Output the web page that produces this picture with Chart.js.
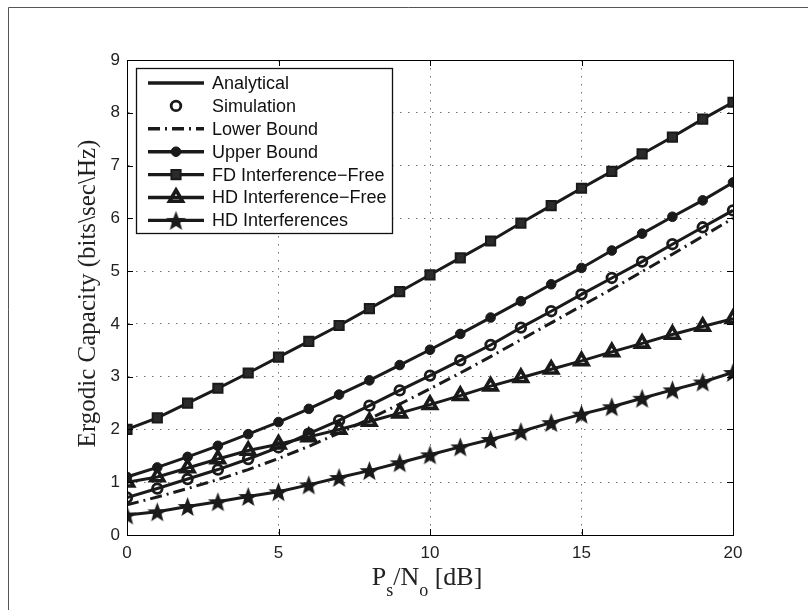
<!DOCTYPE html>
<html>
<head>
<meta charset="utf-8">
<script src="https://cdn.jsdelivr.net/npm/chart.js@4/dist/chart.umd.min.js"></script>
<style>
  html, body { margin: 0; padding: 0; background: #fff; }
  #wrap { width: 808px; height: 610px; }
</style>
</head>
<body>
<div id="wrap"><canvas id="chart" width="808" height="610"></canvas></div>
<script>
// values
const snr = [0, 1, 2, 3, 4, 5, 6, 7, 8, 9, 10, 11, 12, 13, 14, 15, 16, 17, 18, 19, 20];
const analytical = [0.71, 0.88, 1.06, 1.24, 1.44, 1.66, 1.92, 2.17, 2.45, 2.74, 3.02, 3.31, 3.60, 3.93, 4.24, 4.56, 4.87, 5.18, 5.51, 5.83, 6.15];
const simulation = [0.71, 0.88, 1.06, 1.24, 1.44, 1.66, 1.92, 2.17, 2.45, 2.74, 3.02, 3.31, 3.60, 3.93, 4.24, 4.56, 4.87, 5.18, 5.51, 5.83, 6.15];
const lowerBound = [0.57, 0.72, 0.88, 1.05, 1.24, 1.45, 1.68, 1.93, 2.20, 2.48, 2.77, 3.07, 3.38, 3.70, 4.02, 4.34, 4.66, 4.99, 5.32, 5.66, 6.00];
const upperBound = [1.10, 1.28, 1.48, 1.69, 1.91, 2.14, 2.39, 2.66, 2.93, 3.22, 3.51, 3.81, 4.12, 4.43, 4.75, 5.06, 5.39, 5.71, 6.03, 6.34, 6.68];
const fdFree = [2.00, 2.22, 2.50, 2.78, 3.07, 3.37, 3.67, 3.97, 4.29, 4.61, 4.93, 5.25, 5.57, 5.91, 6.24, 6.57, 6.89, 7.22, 7.54, 7.88, 8.20];
const hdFree = [1.00, 1.10, 1.27, 1.44, 1.60, 1.72, 1.86, 2.00, 2.15, 2.31, 2.47, 2.64, 2.82, 2.98, 3.14, 3.30, 3.47, 3.63, 3.80, 3.95, 4.10];
const hdInterf = [0.38, 0.44, 0.54, 0.63, 0.73, 0.82, 0.95, 1.09, 1.22, 1.37, 1.52, 1.67, 1.81, 1.96, 2.13, 2.29, 2.43, 2.59, 2.75, 2.90, 3.08];
const xTicks = [0, 5, 10, 15, 20];
const yTicks = [0, 1, 2, 3, 4, 5, 6, 7, 8, 9];
const legendNames = ['Analytical', 'Simulation', 'Lower Bound', 'Upper Bound',
  'FD Interference\u2212Free', 'HD Interference\u2212Free', 'HD Interferences'];

const INK = '#1a1a1a';
const toXY = arr => snr.map((x, i) => ({ x, y: arr[i] }));

// filled pentagram used as a point style
function makeStar(r) {
  const s = Math.ceil(r * 2 + 2);
  const c = document.createElement('canvas');
  c.width = c.height = s;
  const g = c.getContext('2d');
  g.fillStyle = INK;
  g.beginPath();
  for (let k = 0; k < 10; k++) {
    const rr = k % 2 ? r * 0.42 : r;
    const a = -Math.PI / 2 + k * Math.PI / 5;
    g.lineTo(s / 2 + rr * Math.cos(a), s / 2 + 1 + rr * Math.sin(a));
  }
  g.closePath();
  g.fill();
  return c;
}
const star = makeStar(10.5);

const base = { borderColor: INK, borderWidth: 3, tension: 0, pointBorderColor: INK };
const datasets = [
  { ...base, label: legendNames[0], data: toXY(analytical), pointRadius: 0 },
  { ...base, label: legendNames[1], data: toXY(simulation), showLine: false,
    pointStyle: 'circle', pointRadius: 4.8, pointBorderWidth: 2.8, pointBackgroundColor: 'rgba(0,0,0,0)' },
  { ...base, label: legendNames[2], data: toXY(lowerBound), pointRadius: 0, borderDash: [12, 5, 2, 5] },
  { ...base, label: legendNames[3], data: toXY(upperBound),
    pointStyle: 'circle', pointRadius: 4.8, pointBorderWidth: 1, pointBackgroundColor: INK },
  { ...base, label: legendNames[4], data: toXY(fdFree),
    pointStyle: 'rect', pointRadius: 6.5, pointBorderWidth: 2, pointBackgroundColor: '#2b2b2b' },
  { ...base, label: legendNames[5], data: toXY(hdFree),
    pointStyle: 'triangle', pointRadius: 7.5, pointBorderWidth: 3.6, pointBackgroundColor: 'rgba(0,0,0,0)' },
  { ...base, label: legendNames[6], data: toXY(hdInterf), pointStyle: star, pointRadius: 10 }
];

const decor = {
  id: 'decor',
  beforeDraw(chart) {
    const ctx = chart.ctx;
    ctx.save();
    ctx.fillStyle = '#fff';
    ctx.fillRect(0, 0, chart.width, chart.height);
    // figure frame (only top/left edges fall inside the picture)
    ctx.strokeStyle = '#555';
    ctx.lineWidth = 1;
    ctx.beginPath();
    ctx.moveTo(8.5, 900); ctx.lineTo(8.5, 7.5); ctx.lineTo(900, 7.5);
    ctx.stroke();
    ctx.restore();
  },
  afterDraw(chart) {
    const ctx = chart.ctx;
    const { left, right, top, bottom } = chart.chartArea;
    const xs = chart.scales.x, ys = chart.scales.y;
    ctx.save();
    // axes box and inward ticks
    ctx.strokeStyle = '#000';
    ctx.lineWidth = 1;
    ctx.strokeRect(left + 0.5, top + 0.5, right - left, bottom - top);
    ctx.beginPath();
    xTicks.forEach(v => {
      const p = Math.round(xs.getPixelForValue(v)) + 0.5;
      ctx.moveTo(p, bottom); ctx.lineTo(p, bottom - 6);
      ctx.moveTo(p, top); ctx.lineTo(p, top + 6);
    });
    yTicks.forEach(v => {
      const p = Math.round(ys.getPixelForValue(v)) + 0.5;
      ctx.moveTo(left, p); ctx.lineTo(left + 6, p);
      ctx.moveTo(right, p); ctx.lineTo(right - 6, p);
    });
    ctx.stroke();

    // y axis title
    ctx.fillStyle = '#222';
    ctx.font = '25px "Liberation Serif", "Times New Roman", serif';
    ctx.textAlign = 'center';
    ctx.textBaseline = 'middle';
    ctx.save();
    ctx.translate(88, (top + bottom) / 2 - 4);
    ctx.rotate(-Math.PI / 2);
    ctx.fillText('Ergodic Capacity (bits\\sec\\Hz)', 0, 0);
    ctx.restore();

    // x axis title with subscripts
    const big = '26px "Liberation Serif", "Times New Roman", serif';
    const small = '18px "Liberation Serif", "Times New Roman", serif';
    const parts = [['P', big, 0], ['s', small, 11], ['/', big, 0], ['N', big, 0], ['o', small, 11], [' [dB]', big, 0]];
    ctx.textAlign = 'left';
    ctx.textBaseline = 'alphabetic';
    let total = 0;
    parts.forEach(([t, f]) => { ctx.font = f; total += ctx.measureText(t).width; });
    let cx = (left + right) / 2 - 3 - total / 2;
    parts.forEach(([t, f, dy]) => {
      ctx.font = f;
      ctx.fillText(t, cx, 585 + dy);
      cx += ctx.measureText(t).width;
    });

    // legend
    const lx = 136.5, ly = 68.5, lw = 256, lh = 165;
    ctx.fillStyle = '#fff';
    ctx.fillRect(lx, ly, lw, lh);
    ctx.strokeStyle = '#111';
    ctx.lineWidth = 1.3;
    ctx.strokeRect(lx, ly, lw, lh);
    const x0 = 148, x1 = 204, mx = 176;
    ctx.font = '18px "Liberation Sans", Arial, sans-serif';
    ctx.textBaseline = 'middle';
    datasets.forEach((ds, i) => {
      const y = 83 + i * 22.9;
      ctx.strokeStyle = INK;
      ctx.fillStyle = INK;
      if (ds.showLine !== false) {
        ctx.lineWidth = 3.4;
        ctx.setLineDash(ds.borderDash || []);
        ctx.beginPath(); ctx.moveTo(x0, y); ctx.lineTo(x1, y); ctx.stroke();
        ctx.setLineDash([]);
      }
      const st = ds.pointStyle;
      if (ds.pointRadius) {
        const r = ds.pointRadius;
        ctx.lineWidth = ds.pointBorderWidth || 1;
        ctx.beginPath();
        if (st === 'circle') {
          ctx.arc(mx, y, r, 0, Math.PI * 2);
          if (ds.pointBackgroundColor === INK) ctx.fill();
          ctx.stroke();
        } else if (st === 'rect') {
          const s = r * Math.SQRT1_2;
          ctx.fillStyle = ds.pointBackgroundColor;
          ctx.rect(mx - s, y - s, 2 * s, 2 * s);
          ctx.fill(); ctx.stroke();
        } else if (st === 'triangle') {
          for (let k = 0; k < 3; k++) {
            const a = -Math.PI / 2 + k * 2 * Math.PI / 3;
            ctx.lineTo(mx + r * Math.cos(a), y + r * Math.sin(a));
          }
          ctx.closePath(); ctx.stroke();
        } else if (st === star) {
          ctx.drawImage(star, mx - star.width / 2, y - star.height / 2);
        }
      }
      ctx.fillStyle = '#111';
      ctx.fillText(ds.label, 212, y + 1);
    });
    ctx.restore();
  }
};

const gridStyle = {
  color: 'rgba(0,0,0,0.55)',
  lineWidth: 1,
  drawTicks: false
};

new Chart(document.getElementById('chart'), {
  type: 'line',
  data: { datasets },
  options: {
    responsive: false,
    animation: false,
    events: [],
    layout: { padding: { left: 0, right: 75, top: 60, bottom: 0 } },
    plugins: { legend: { display: false }, tooltip: { enabled: false } },
    scales: {
      x: {
        type: 'linear', min: 0, max: 20,
        afterFit: s => { s.height = 75; },
        afterBuildTicks: s => { s.ticks = xTicks.map(v => ({ value: v })); },
        ticks: { padding: 8, color: '#222', font: { family: '"Liberation Sans", Arial, sans-serif', size: 17 } },
        grid: gridStyle,
        border: { display: true, color: '#000', width: 1, dash: [1.5, 6.5] }
      },
      y: {
        type: 'linear', min: 0, max: 9,
        afterFit: s => { s.width = 127; },
        afterBuildTicks: s => { s.ticks = yTicks.map(v => ({ value: v })); },
        ticks: { padding: 7, color: '#222', font: { family: '"Liberation Sans", Arial, sans-serif', size: 17 } },
        grid: gridStyle,
        border: { display: true, color: '#000', width: 1, dash: [1.5, 6.5] }
      }
    }
  },
  plugins: [decor]
});
</script>
</body>
</html>
